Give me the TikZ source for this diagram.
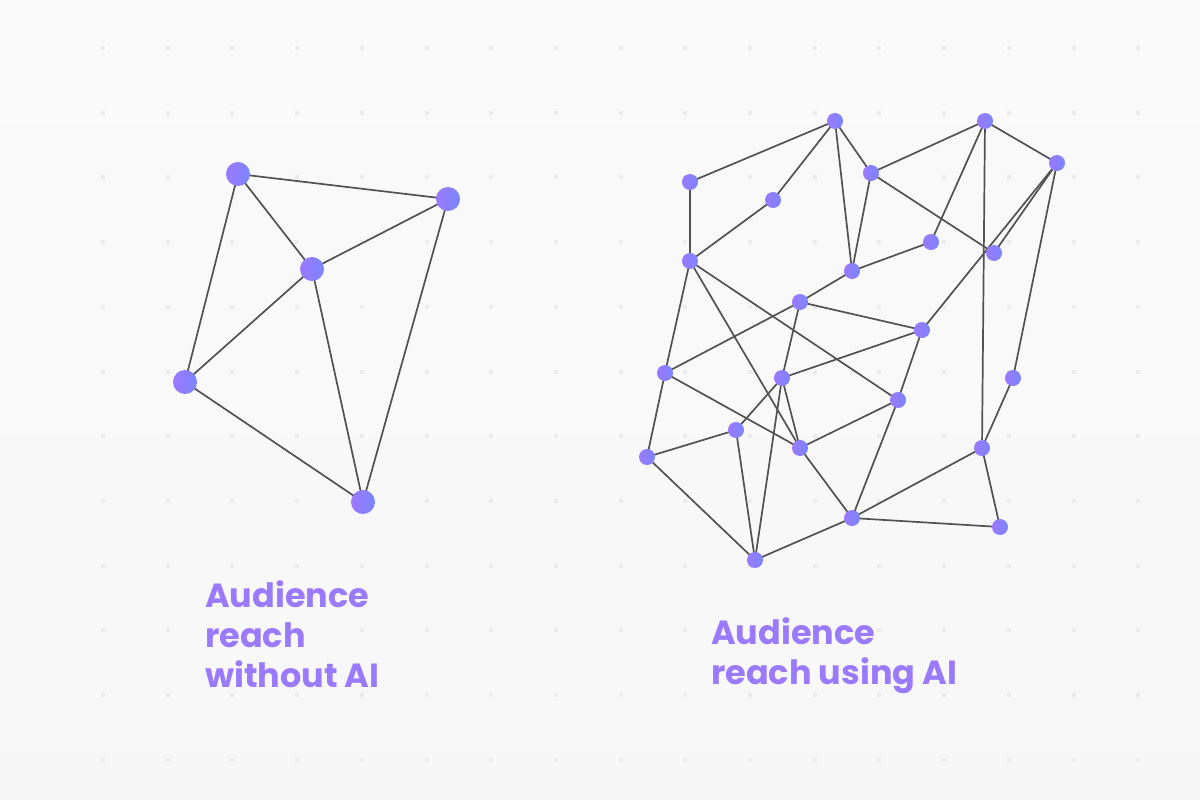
\documentclass[tikz,border=0pt]{standalone}
\usepackage{fontspec}
\setmainfont{Poppins}
\pgfdeclarelayer{bg}\pgfdeclarelayer{edges}
\pgfsetlayers{bg,edges,main}
\begin{document}
\begin{tikzpicture}[x=1pt,y=-1pt]
\definecolor{nl}{HTML}{9B78FF}\definecolor{nr}{HTML}{7B87FF}\definecolor{labc}{HTML}{9A7BFF}
\tikzset{big/.style={circle,inner sep=0pt,minimum size=24pt,left color=nl,right color=nr,draw=none},
 sm/.style={circle,inner sep=0pt,minimum size=16pt,left color=nl,right color=nr,draw=none},
 edge/.style={draw=black!68,line width=1.7pt},
 lbl/.style={text=labc,font=\fontsize{33.5}{40}\selectfont\bfseries,align=left,anchor=north west,inner sep=0pt}}
\begin{pgfonlayer}{bg}
\fill[top color=white!96!gray, bottom color=white!94!gray] (0,0) rectangle (1200,800);
\foreach \i in {0,...,16}{\foreach \j in {0,...,11}{
  \fill[black!8] ({103+64.7*\i-2},{48+64.7*\j-2}) rectangle +(4,4);}}
\end{pgfonlayer}
\useasboundingbox (0,0) rectangle (1200,800);
% left graph
\node[big] (a) at (238,174) {};
\node[big] (b) at (448,199) {};
\node[big] (c) at (312,269) {};
\node[big] (d) at (185,382) {};
\node[big] (e) at (363,502) {};
% right graph
\node[sm] (A) at (835,121) {};
\node[sm] (B) at (985,121) {};
\node[sm] (C) at (1057,163) {};
\node[sm] (D) at (690,182) {};
\node[sm] (E) at (871,173) {};
\node[sm] (F) at (773,200) {};
\node[sm] (G) at (931,242) {};
\node[sm] (H) at (994,253) {};
\node[sm] (I) at (690,261) {};
\node[sm] (J) at (852,271) {};
\node[sm] (K) at (800,302) {};
\node[sm] (L) at (922,330) {};
\node[sm] (M) at (665,373) {};
\node[sm] (N) at (782,378) {};
\node[sm] (O) at (1013,378) {};
\node[sm] (P) at (898,400) {};
\node[sm] (Q) at (736,430) {};
\node[sm] (R) at (800,448) {};
\node[sm] (S) at (647,457) {};
\node[sm] (T) at (982,448) {};
\node[sm] (U) at (852,518) {};
\node[sm] (V) at (1000,527) {};
\node[sm] (W) at (755,560) {};
\begin{pgfonlayer}{edges}
\foreach \u/\v in {a/b,a/c,a/d,b/c,b/e,c/d,c/e,d/e,
 D/A,A/F,F/I,D/I,A/J,A/E,E/J,E/B,E/H,B/G,B/T,B/C,C/H,C/L,C/O,O/T,T/U,T/V,U/V,
 J/G,J/K,K/L,K/M,K/N,N/W,N/Q,N/R,N/L,I/M,I/R,I/P,M/R,M/S,S/Q,S/W,Q/W,R/U,R/P,P/U,U/W,L/P}
 \draw[edge] (\u.center) -- (\v.center);
\end{pgfonlayer}
\node[lbl] (l1) at (205,580) {Audience\\reach\\without AI};
\node[lbl] (l2) at (711,617) {Audience\\reach using AI};
\end{tikzpicture}
\end{document}
